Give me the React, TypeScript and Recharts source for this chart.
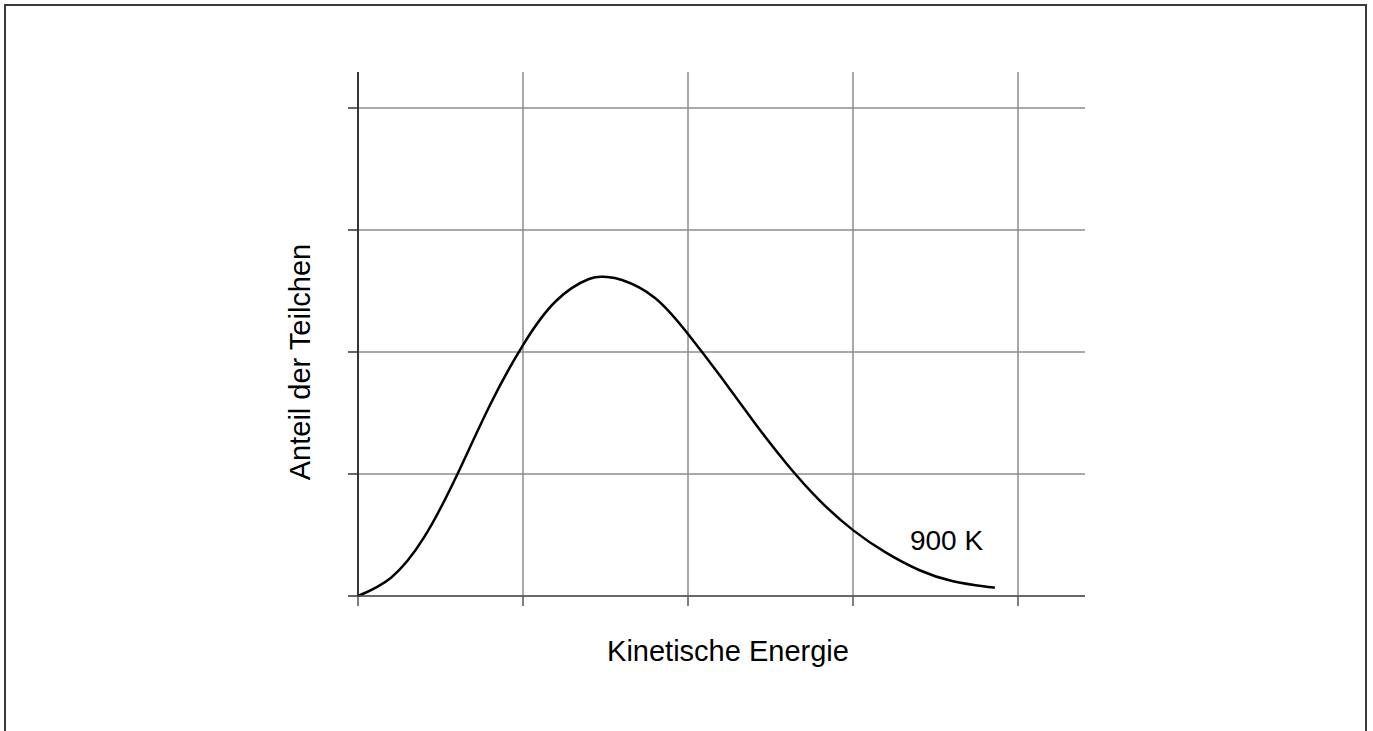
import { CartesianGrid, Label, Line, LineChart, ReferenceDot, XAxis, YAxis } from "recharts";

// kinetic energy (x) and share of particles (y)
const energy = [0, 0.2, 0.4, 0.6, 0.8, 1.0, 1.2, 1.4, 1.5, 1.6, 1.8, 2.0, 2.2, 2.4, 2.6, 2.8, 3.0, 3.2, 3.4, 3.6, 3.8, 3.86];
const share = [0, 0.15, 0.48, 0.992, 1.566, 2.057, 2.418, 2.598, 2.615, 2.59, 2.443, 2.148, 1.795, 1.426, 1.08, 0.78, 0.54, 0.355, 0.213, 0.123, 0.078, 0.07];
const xTicks = [0, 1, 2, 3, 4];
const yTicks = [0, 1, 2, 3, 4];
const curveLabel = "900 K";
const xTitle = "Kinetische Energie";
const yTitle = "Anteil der Teilchen";

const data = energy.map((e, i) => ({ e, n: share[i] }));
const FONT = '"Liberation Sans", Arial, sans-serif';

export default function App() {
  return (
    <div style={{ position: "fixed", left: 0, top: 0, width: 1373, height: 731, background: "#fff", overflow: "hidden" }}>
      <div
        style={{
          position: "absolute",
          left: 4,
          top: 4,
          width: 1363,
          height: 760,
          border: "2px solid #3a3a3a",
          boxSizing: "border-box",
        }}
      />
      <div style={{ position: "absolute", left: 0, top: 0 }}>
        <LineChart width={1373} height={731} data={data} margin={{ left: 357, right: 288, top: 72, bottom: 134 }}>
          <CartesianGrid stroke="#8c8c8c" strokeWidth={1.5} horizontalValues={yTicks} verticalValues={xTicks} />
          <XAxis
            dataKey="e"
            type="number"
            domain={[0, 4.406]}
            ticks={xTicks}
            height={1}
            tickSize={10}
            tickFormatter={() => ""}
            stroke="#555"
            strokeWidth={1.5}
            tickLine={{ stroke: "#555", strokeWidth: 1.5 }}
          >
            <Label
              content={() => (
                <text x={728} y={661} textAnchor="middle" fontFamily={FONT} fontSize={29} fill="#000">
                  {xTitle}
                </text>
              )}
            />
          </XAxis>
          <YAxis
            type="number"
            domain={[0, 4.295]}
            ticks={yTicks}
            width={1}
            tickSize={10}
            tickFormatter={() => ""}
            stroke="#111"
            strokeWidth={1.5}
            tickLine={{ stroke: "#333", strokeWidth: 1.5 }}
          >
            <Label
              content={() => (
                <text
                  x={300}
                  y={362}
                  textAnchor="middle"
                  dominantBaseline="central"
                  transform="rotate(-90, 300, 362)"
                  fontFamily={FONT}
                  fontSize={29}
                  fill="#000"
                >
                  {yTitle}
                </text>
              )}
            />
          </YAxis>
          <Line
            type="natural"
            dataKey="n"
            stroke="#000"
            strokeWidth={2.5}
            dot={false}
            activeDot={false}
            isAnimationActive={false}
          />
          <ReferenceDot
            x={3.345}
            y={0.377}
            r={0}
            fill="none"
            stroke="none"
            label={(props: any) => {
              const vb = props.viewBox || {};
              return (
                <text x={vb.x} y={vb.y} fontFamily={FONT} fontSize={28} fill="#000">
                  {curveLabel}
                </text>
              );
            }}
          />
        </LineChart>
      </div>
    </div>
  );
}
